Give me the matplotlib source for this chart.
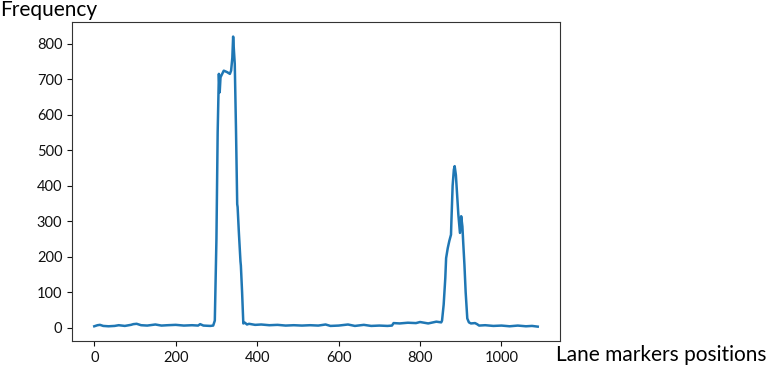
import matplotlib
matplotlib.use("Agg")
import matplotlib.pyplot as plt

# posizioni (pixel) e frequenze
positions = [0, 8, 14, 22, 35, 50, 60, 75, 90, 96, 104, 115, 130, 150, 165, 180,
             200, 220, 240, 255, 260, 268, 285, 292, 296, 300, 303, 306, 308, 310,
             312, 318, 326, 333, 336, 339, 341, 343, 345, 348, 351, 352, 355, 359,
             360, 363, 366, 370, 375, 380, 395, 410, 430, 450, 470, 490, 510, 530,
             550, 568, 580, 600, 623, 640, 662, 680, 700, 720, 731, 735, 750, 770,
             790, 800, 820, 840, 852, 854, 858, 862, 864, 868, 872, 876, 877, 880,
             883, 885, 888, 891, 894, 898, 901, 904, 906, 909, 912, 916, 920, 925,
             935, 940, 945, 960, 980, 1000, 1020, 1040, 1060, 1075, 1089]
frequency = [4, 7, 8, 5, 4, 5, 7, 5, 8, 10, 11, 7, 6, 9, 6, 7,
             8, 6, 7, 6, 10, 6, 5, 6, 20, 250, 550, 715, 663, 705,
             710, 724, 720, 715, 724, 760, 820, 780, 743, 560, 348, 340, 270, 187,
             175, 100, 12, 14, 9, 11, 8, 9, 7, 8, 6, 7, 6, 7,
             6, 9, 5, 6, 9, 5, 8, 5, 6, 5, 6, 13, 12, 14,
             13, 16, 12, 17, 15, 20, 65, 140, 196, 224, 245, 262, 300, 400,
             445, 455, 430, 375, 319, 267, 314, 285, 240, 177, 100, 26, 15, 12,
             13, 10, 6, 7, 5, 6, 4, 6, 4, 5, 3]

plt.rcParams['font.family'] = ['Lato', 'DejaVu Sans']

fig = plt.figure(figsize=(7.67, 3.68), dpi=100)
ax = fig.add_axes([0.094, 0.073, 0.636, 0.867])
ax.plot(positions, frequency, color='#1f77b4', linewidth=1.8)
ax.set_xticks([0, 200, 400, 600, 800, 1000])
ax.set_yticks(range(0, 801, 100))
ax.tick_params(labelsize=10.5, colors='#111111')
for s in ax.spines.values():
    s.set_color('#333333')

fig.text(0.0, 1.0, 'Frequency', fontsize=15, ha='left', va='top')
fig.text(1.0, 0.035, 'Lane markers positions', fontsize=15, ha='right', va='center')

fig.savefig('out.png', dpi=100)
